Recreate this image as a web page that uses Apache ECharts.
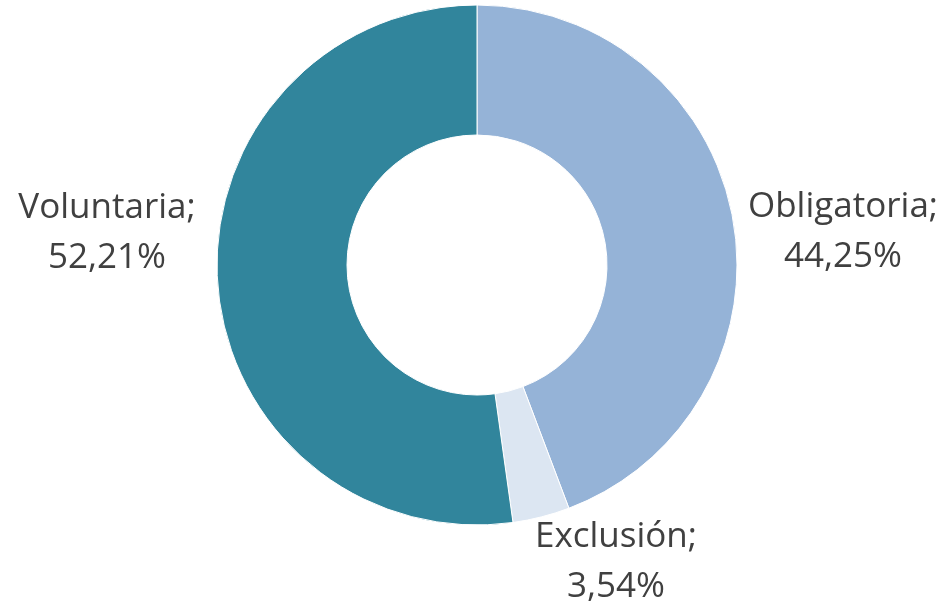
<!DOCTYPE html>
<html>
<head>
<meta charset="utf-8">
<script src="https://cdn.jsdelivr.net/npm/echarts@6/dist/echarts.min.js"></script>
<style>
  html, body { margin: 0; padding: 0; background: #fff; }
  #chart { width: 950px; height: 610px; }
</style>
</head>
<body>
<div id="chart"></div>
<script>
const categories = ['Obligatoria', 'Exclusión', 'Voluntaria']
const values = [44.25, 3.54, 52.21]
const colors = ['#95B3D7', '#DCE6F2', '#31859C']
// where each label block is centred, as in the source picture
const labelSpots = [[843, 232], [616, 562], [107, 233]]

const fontFamily = `'Open Sans', 'Noto Sans', sans-serif`

const chart = echarts.init(document.getElementById('chart'))
chart.setOption({
  animation: false,
  series: [
    {
      type: 'pie',
      center: [477, 265],
      radius: [130, 260],
      startAngle: 90,
      clockwise: true,
      itemStyle: {
        borderColor: '#fff',
        borderWidth: 1
      },
      label: {
        show: true,
        position: 'outside',
        color: '#404040',
        fontSize: 35,
        lineHeight: 50,
        overflow: 'none',
        fontFamily: fontFamily,
        formatter: p => p.name + ';\n' + p.value.toFixed(2).replace('.', ',') + '%'
      },
      labelLine: { show: false },
      labelLayout: p => ({
        x: labelSpots[p.dataIndex][0],
        y: labelSpots[p.dataIndex][1],
        align: 'center',
        verticalAlign: 'middle',
        width: 260
      }),
      data: categories.map((c, i) => ({
        name: c,
        value: values[i],
        itemStyle: { color: colors[i] }
      }))
    }
  ]
})
</script>
</body>
</html>
